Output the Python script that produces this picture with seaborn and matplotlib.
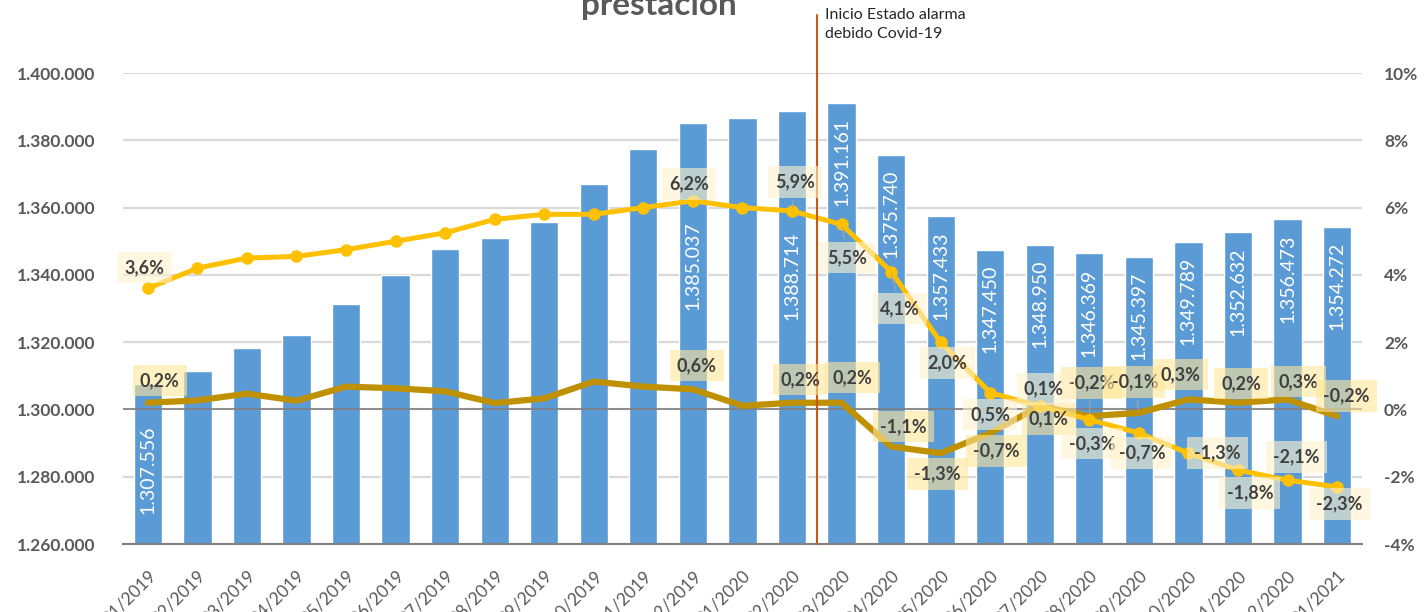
import numpy as np
import pandas as pd
import seaborn as sns
import matplotlib.pyplot as plt

# Data
months = ["01/2019", "02/2019", "03/2019", "04/2019", "05/2019", "06/2019", "07/2019",
          "08/2019", "09/2019", "10/2019", "11/2019", "12/2019", "01/2020", "02/2020",
          "03/2020", "04/2020", "05/2020", "06/2020", "07/2020", "08/2020", "09/2020",
          "10/2020", "11/2020", "12/2020", "01/2021"]
afiliados = [1307556, 1311400, 1318250, 1322100, 1331300, 1339950, 1347700,
             1350950, 1355700, 1367000, 1377400, 1385037, 1386600, 1388714,
             1391161, 1375740, 1357433, 1347450, 1348950, 1346369, 1345397,
             1349789, 1352632, 1356473, 1354272]
var_anual = [3.6, 4.2, 4.5, 4.55, 4.75, 5.0, 5.25, 5.65, 5.8, 5.8, 6.0, 6.2, 6.0, 5.9,
             5.5, 4.1, 2.0, 0.5, 0.1, -0.3, -0.7, -1.3, -1.8, -2.1, -2.3]
var_mensual = [0.2, 0.27, 0.47, 0.26, 0.68, 0.63, 0.54, 0.19, 0.33, 0.83, 0.68, 0.6, 0.11, 0.2,
               0.2, -1.1, -1.3, -0.7, 0.1, -0.2, -0.1, 0.3, 0.2, 0.3, -0.2]

# which points get a value label
bar_labelled = [0, 11, 13] + list(range(14, 25))
line_labelled = [0, 11, 13] + list(range(14, 25))

df = pd.DataFrame({"mes": months, "afiliados": afiliados})
x = np.arange(len(months))

sns.set_theme(style="white")
plt.rcParams["font.family"] = ["Lato", "DejaVu Sans"]

fig, ax = plt.subplots(figsize=(14.26, 6.12), dpi=100)
fig.subplots_adjust(left=0.0863, right=0.955, top=0.8807, bottom=0.111)

# bars
sns.barplot(data=df, x="mes", y="afiliados", color="#5B9BD5", saturation=1,
            width=0.57, ax=ax, zorder=2)
ax.set_ylim(1260000, 1400000)
ax.set_xlim(-0.5, len(months) - 0.5)
ax.set_yticks(np.arange(1260000, 1400001, 20000))
ax.set_yticklabels([f"{v:,.0f}".replace(",", ".") for v in np.arange(1260000, 1400001, 20000)])
ax.grid(axis="y", color="#D9D9D9", lw=1.6)
ax.set_axisbelow(True)
ax.set_xlabel("")
ax.set_ylabel("")
for s in ["top", "left", "right"]:
    ax.spines[s].set_visible(False)
ax.spines["bottom"].set_color("#808080")
ax.spines["bottom"].set_linewidth(1.5)
ax.tick_params(axis="y", length=0, pad=20, labelsize=12.5, labelcolor="#595959")
for t in ax.get_yticklabels():
    t.set_fontweight("bold")
ax.set_xticks(x)
ax.set_xticklabels(months, rotation=45, ha="right", rotation_mode="anchor")
ax.tick_params(axis="x", which="major", length=0, pad=17, labelsize=12.5, labelcolor="#595959")
ax.set_xticks(np.arange(-0.5, len(months), 1), minor=True)
ax.tick_params(axis="x", which="minor", length=6, width=1.5, color="#808080", direction="out")

# bar value labels (white, vertical, inside the bar)
bar_drop = {0: 41, 11: 98, 13: 121}
for i in bar_labelled:
    drop = bar_drop.get(i, 15) * 0.72
    ax.annotate(f"{afiliados[i]:,.0f}".replace(",", "."), (i, afiliados[i]),
                xytext=(0, -drop), textcoords="offset points", rotation=90,
                ha="center", va="top", color="white", fontsize=14, zorder=3)

# right axis with the two variation lines
ax2 = ax.twinx()
ax2.set_ylim(-4, 10)
ax2.set_yticks(np.arange(-4, 11, 2))
ax2.set_yticklabels([f"{v}%" for v in np.arange(-4, 11, 2)])
ax2.tick_params(axis="y", length=0, pad=16, labelsize=12.5, labelcolor="#595959")
for t in ax2.get_yticklabels():
    t.set_fontweight("bold")
for s in ax2.spines.values():
    s.set_visible(False)
ax2.grid(False)
ax2.axhline(0, color="#7F7F7F", lw=1.2, zorder=1)

sns.lineplot(x=x, y=var_mensual, color="#BF9000", lw=4.5, ax=ax2, zorder=3)
sns.lineplot(x=x, y=var_anual, color="#FFC000", lw=3.6, marker="o", markersize=9,
             markeredgewidth=0, ax=ax2, zorder=4)
ax2.set_xlim(-0.5, len(months) - 0.5)

# covid line
ax2.axvline(13.5, ymin=0, ymax=1.123, color="#C55A11", lw=1.5, clip_on=False, zorder=5)
fig.text(825 / 1426, 1 - 8 / 612, "Inicio Estado alarma\ndebido Covid-19", ha="left",
         va="top", fontsize=11.5, color="#262626", linespacing=1.45)

# title (cut at the top, as in the original)
fig.text(659 / 1426, 1 - 15 / 612, "prestación", ha="center", va="baseline",
         fontsize=24, fontweight="bold", color="#595959")


def pct(v):
    return f"{v:.1f}%".replace(".", ",")


# label offsets in pixels (dx right, dy up)
off_anual = {0: (-3, 21), 11: (-4, 17), 13: (3, 29), 14: (6, -33), 15: (9, -37),
             16: (7, -21), 17: (0, -22), 18: (4, 17), 19: (3, -24), 20: (3, -20),
             21: (29, 0), 22: (12, -23), 23: (9, 23), 24: (2, -17)}
off_mensual = {0: (12, 22), 11: (4, 24), 13: (8, 23), 14: (11, 25), 15: (12, 20),
               16: (-3, -21), 17: (6, -18), 18: (9, -13), 19: (2, 33), 20: (-4, 31),
               21: (-8, 25), 22: (3, 19), 23: (11, 18), 24: (9, 20)}
leader = {13, 14, 15}
leader_m = {19, 20}

for i in line_labelled:
    dx, dy = off_mensual[i]
    ax2.annotate(pct(var_mensual[i]), (i, var_mensual[i]), xytext=(dx * 0.72, dy * 0.72),
                 textcoords="offset points", ha="center", va="center", fontsize=13,
                 fontweight="bold", color="#404040", zorder=6,
                 bbox=dict(boxstyle="square,pad=0.4", fc="#FFE699", ec="none", alpha=0.6),
                 arrowprops=dict(arrowstyle="-", color="#A6A6A6", lw=0.8) if i in leader_m else None)
for i in line_labelled:
    dx, dy = off_anual[i]
    ax2.annotate(pct(var_anual[i]), (i, var_anual[i]), xytext=(dx * 0.72, dy * 0.72),
                 textcoords="offset points", ha="center", va="center", fontsize=13,
                 fontweight="bold", color="#404040", zorder=6,
                 bbox=dict(boxstyle="square,pad=0.4", fc="#FFF2CC", ec="none", alpha=0.6),
                 arrowprops=dict(arrowstyle="-", color="#A6A6A6", lw=0.8) if i in leader else None)

plt.savefig("out.png", dpi=100)
